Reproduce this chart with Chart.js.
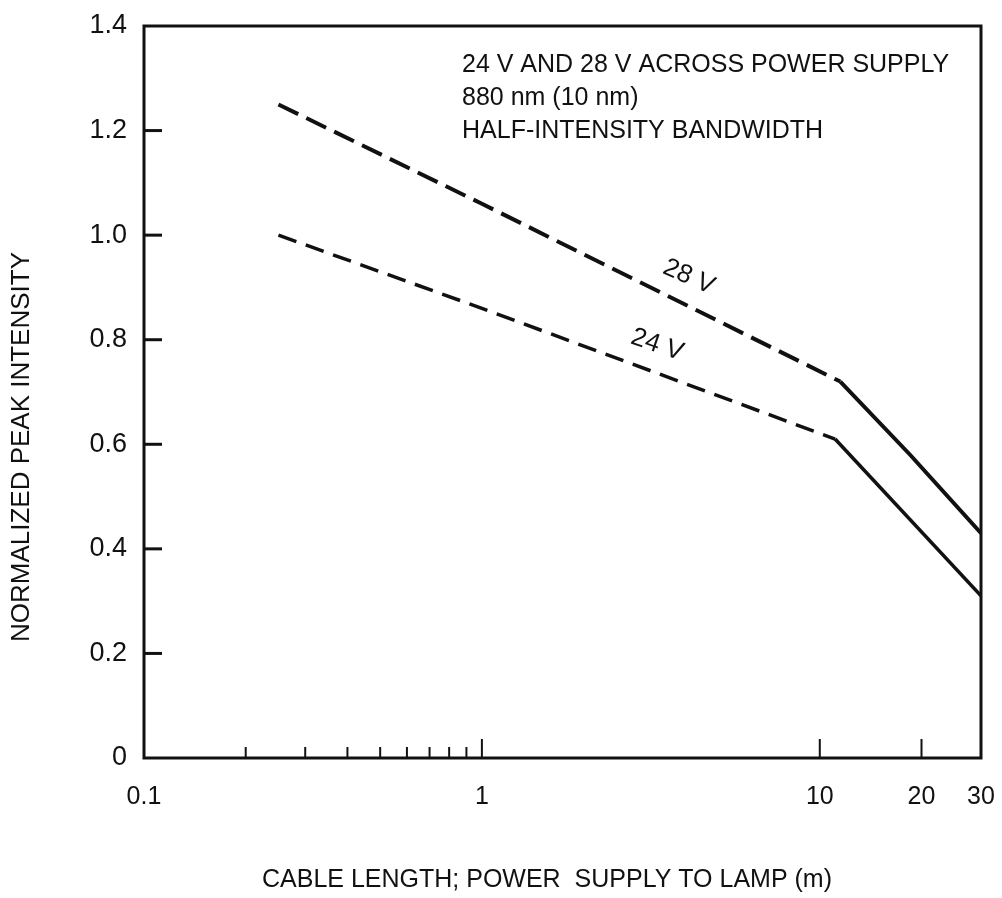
<!DOCTYPE html>
<html>
<head>
<meta charset="utf-8">
<script src="https://cdn.jsdelivr.net/npm/chart.js@4.4.4/dist/chart.umd.min.js"></script>
<style>
  html, body { margin: 0; padding: 0; background: #fff; }
  #wrap { width: 1002px; height: 898px; }
</style>
</head>
<body>
<div id="wrap"><canvas id="chart" width="1002" height="898"></canvas></div>
<script>
// ── Data ───────────────────────────────────────────────────────────────────
// Each curve is dashed up to the break point, solid after it.
const cableLen28   = [0.25, 1, 11.5, 18.5, 30];
const intensity28  = [1.25, 1.06, 0.72, 0.58, 0.43];
const dashedEnd28  = 2;

const cableLen24   = [0.25, 1, 11.1, 30];
const intensity24  = [1.0, 0.86, 0.61, 0.31];
const dashedEnd24  = 2;

const xTickVals  = [0.1, 1, 10, 20, 30];
const xMinorVals = [0.2, 0.3, 0.4, 0.5, 0.6, 0.7, 0.8, 0.9];
const yTickVals  = [0, 0.2, 0.4, 0.6, 0.8, 1.0, 1.2, 1.4];

const noteLines  = ['24 V AND 28 V ACROSS POWER SUPPLY', '880 nm (10 nm)', 'HALF-INTENSITY BANDWIDTH'];
const curveTags  = [
  { text: '28 V', x: 4.1, y: 0.92, angle: 24 },
  { text: '24 V', x: 3.3, y: 0.79, angle: 19 },
];

const xTitle = 'CABLE LENGTH; POWER  SUPPLY TO LAMP (m)';
const yTitle = 'NORMALIZED PEAK INTENSITY';

// ── Look ───────────────────────────────────────────────────────────────────
const FONT = '"Liberation Sans", Arial, sans-serif';
const INK  = '#111';

Chart.defaults.font.family = FONT;
Chart.defaults.color = INK;

const toPoints = (xs, ys) => xs.map((x, i) => ({ x, y: ys[i] }));

const dashedThen = (lastDashed, dash) => ({
  borderDash: ctx => (ctx.p1DataIndex <= lastDashed ? dash : []),
});

// frame, inward tick marks, titles and in-plot text
const decorations = {
  id: 'decorations',
  afterDatasetsDraw(chart) {
    const { ctx, chartArea: a, scales: { x, y } } = chart;
    const seg = (x1, y1, x2, y2) => { ctx.beginPath(); ctx.moveTo(x1, y1); ctx.lineTo(x2, y2); ctx.stroke(); };
    ctx.save();
    ctx.strokeStyle = INK;
    ctx.lineWidth = 3;
    ctx.strokeRect(a.left, a.top, a.right - a.left, a.bottom - a.top);

    yTickVals.slice(1, -1).forEach(v => {
      const py = y.getPixelForValue(v);
      seg(a.left, py, a.left + 18, py);
    });
    ctx.lineWidth = 2;
    xTickVals.slice(1, -1).forEach(v => {
      const px = x.getPixelForValue(v);
      seg(px, a.bottom, px, a.bottom - 19);
    });
    xMinorVals.forEach(v => {
      const px = x.getPixelForValue(v);
      seg(px, a.bottom, px, a.bottom - 11);
    });

    ctx.fillStyle = INK;
    ctx.textBaseline = 'middle';
    ctx.font = `25px ${FONT}`;
    ctx.textAlign = 'left';
    noteLines.forEach((t, i) => ctx.fillText(t, 462, 65 + i * 33));

    ctx.textAlign = 'center';
    ctx.font = `26px ${FONT}`;
    curveTags.forEach(tag => {
      ctx.save();
      ctx.translate(x.getPixelForValue(tag.x), y.getPixelForValue(tag.y));
      ctx.rotate(tag.angle * Math.PI / 180);
      ctx.fillText(tag.text, 0, 0);
      ctx.restore();
    });

    ctx.font = `25px ${FONT}`;
    ctx.fillText(xTitle, 547, 880);
    ctx.save();
    ctx.translate(22, 447);
    ctx.rotate(-Math.PI / 2);
    ctx.font = `26px ${FONT}`;
    ctx.fillText(yTitle, 0, 0);
    ctx.restore();
    ctx.restore();
  },
};

new Chart(document.getElementById('chart'), {
  type: 'line',
  data: {
    datasets: [
      {
        label: '28 V',
        data: toPoints(cableLen28, intensity28),
        borderColor: INK, borderWidth: 4, pointRadius: 0, tension: 0,
        segment: dashedThen(dashedEnd28, [22, 9]),
      },
      {
        label: '24 V',
        data: toPoints(cableLen24, intensity24),
        borderColor: INK, borderWidth: 3.5, pointRadius: 0, tension: 0,
        segment: dashedThen(dashedEnd24, [19, 10]),
      },
    ],
  },
  options: {
    responsive: false,
    animation: false,
    events: [],
    layout: { padding: { top: 26, right: 21, left: 0, bottom: 0 } },
    plugins: { legend: { display: false }, tooltip: { enabled: false } },
    scales: {
      x: {
        type: 'logarithmic', min: 0.1, max: 30,
        grid: { display: false, drawTicks: false }, border: { display: false },
        afterBuildTicks: s => { s.ticks = xTickVals.map(value => ({ value })); },
        afterFit: s => { s.height = 140; s.paddingLeft = 0; s.paddingRight = 0; },
        ticks: { autoSkip: false, maxRotation: 0, padding: 24, font: { size: 25 }, callback: v => String(v) },
      },
      y: {
        min: 0, max: 1.4,
        grid: { display: false, drawTicks: false }, border: { display: false },
        afterBuildTicks: s => { s.ticks = yTickVals.map(value => ({ value })); },
        afterFit: s => { s.width = 144; s.paddingTop = 0; s.paddingBottom = 0; },
        ticks: { padding: 17, font: { size: 27 }, callback: v => (v === 0 ? '0' : v.toFixed(1)) },
      },
    },
  },
  plugins: [decorations],
});
</script>
</body>
</html>
